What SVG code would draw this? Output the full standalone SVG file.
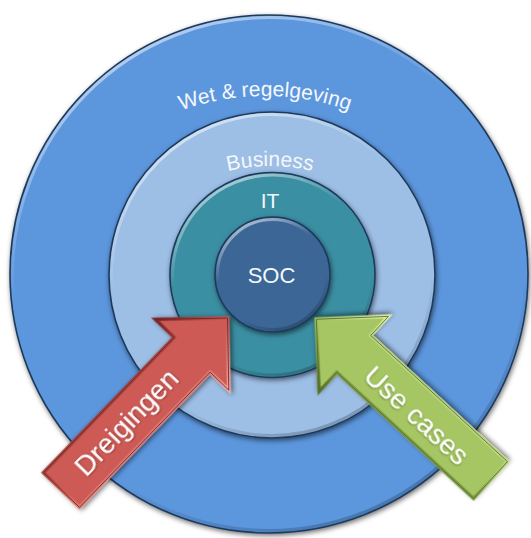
<svg xmlns="http://www.w3.org/2000/svg" width="531" height="538" viewBox="0 0 531 538">
  <defs>
    <filter id="shadow" x="-20%" y="-20%" width="140%" height="140%">
      <feDropShadow dx="1" dy="2" stdDeviation="2.5" flood-color="#000" flood-opacity="0.55"/>
    </filter>
    <filter id="tshadow" x="-20%" y="-20%" width="140%" height="140%">
      <feDropShadow dx="0.5" dy="1" stdDeviation="0.8" flood-color="#000" flood-opacity="0.35"/>
    </filter>
    <linearGradient id="rim" x1="0.25" y1="0" x2="0.75" y2="1">
      <stop offset="0" stop-color="#fff" stop-opacity="0.6"/>
      <stop offset="0.35" stop-color="#fff" stop-opacity="0"/>
      <stop offset="0.7" stop-color="#000" stop-opacity="0"/>
      <stop offset="1" stop-color="#000" stop-opacity="0.25"/>
    </linearGradient>
    <linearGradient id="redEdge" gradientUnits="userSpaceOnUse" x1="0" y1="-50" x2="0" y2="50">
      <stop offset="0" stop-color="#7E2826"/>
      <stop offset="0.5" stop-color="#C85550"/>
      <stop offset="1" stop-color="#F6A8A2"/>
    </linearGradient>
    <linearGradient id="greenEdge" gradientUnits="userSpaceOnUse" x1="0" y1="-50" x2="0" y2="50">
      <stop offset="0" stop-color="#5A7328"/>
      <stop offset="0.5" stop-color="#A0C160"/>
      <stop offset="1" stop-color="#DDF0A6"/>
    </linearGradient>
    <path id="arcWet" d="M 15,346 A 250,250 0 0 1 515,346"/>
    <path id="arcBus" d="M 90,346 A 180,180 0 0 1 450,346"/>
    <style>
      .ring { stroke: #1F3A5C; stroke-width: 1.6; filter: url(#shadow); }
      .rim { fill: none; stroke: url(#rim); stroke-width: 3; }
      .lbl { font-family: "Liberation Sans", Arial, sans-serif; fill: #F4F7FB; }
      .alabel { font-family: "Liberation Sans", Arial, sans-serif; fill: #FFFFFF; font-size: 28px; text-anchor: middle; filter: url(#tshadow); }
      .arrow { filter: url(#shadow); stroke-width: 3.5; stroke-linejoin: miter; }
      .outline { fill: none; stroke-width: 0.8; }
    </style>
  </defs>

  <g id="node-wet">
    <circle class="ring" cx="269" cy="274" r="259" fill="#5B96DD"/>
    <circle class="rim" cx="269" cy="274" r="256.5"/>
    <text class="lbl" font-size="21"><textPath href="#arcWet" startOffset="50%" text-anchor="middle">Wet &amp; regelgeving</textPath></text>
  </g>

  <g id="node-business">
    <circle class="ring" cx="272" cy="275" r="163" fill="#9DBEE5"/>
    <circle class="rim" cx="272" cy="275" r="160.5"/>
    <text class="lbl" font-size="21"><textPath href="#arcBus" startOffset="50%" text-anchor="middle">Business</textPath></text>
  </g>

  <g id="node-it">
    <circle class="ring" cx="272.5" cy="275" r="102.5" fill="#3A8FA3"/>
    <circle class="rim" cx="272.5" cy="275" r="100"/>
    <text class="lbl" font-size="21" x="270" y="208" text-anchor="middle">IT</text>
  </g>

  <g id="node-soc">
    <circle class="ring" cx="272.5" cy="274.5" r="57.5" fill="#3B6696"/>
    <circle class="rim" cx="272.5" cy="274.5" r="55"/>
    <text class="lbl" font-size="22" x="271.5" y="282.5" text-anchor="middle">SOC</text>
  </g>

  <g id="connectors">
    <g id="arrow-dreigingen" transform="translate(61.5,490) rotate(-46)">
      <polygon class="arrow" points="0,-25 188,-25 188,-51 239,0 188,51 188,25 0,25" fill="#CD5A55" stroke="url(#redEdge)"/>
      <polygon class="outline" points="0,-25 188,-25 188,-51 239,0 188,51 188,25 0,25" stroke="#6E2422"/>
    </g>
    <g id="arrow-usecases" transform="translate(490.5,480) rotate(-137.3)">
      <polygon class="arrow" points="0,-25 186,-25 186,-51 237,0 186,51 186,25 0,25" fill="#A5C664" stroke="url(#greenEdge)"/>
      <polygon class="outline" points="0,-25 186,-25 186,-51 237,0 186,51 186,25 0,25" stroke="#556B24"/>
    </g>
    <text class="alabel" transform="translate(126,422) rotate(-46)" x="0" y="10">Dreigingen</text>
    <text class="alabel" transform="translate(417,415) rotate(42.7)" x="0" y="10">Use cases</text>
  </g>
</svg>
